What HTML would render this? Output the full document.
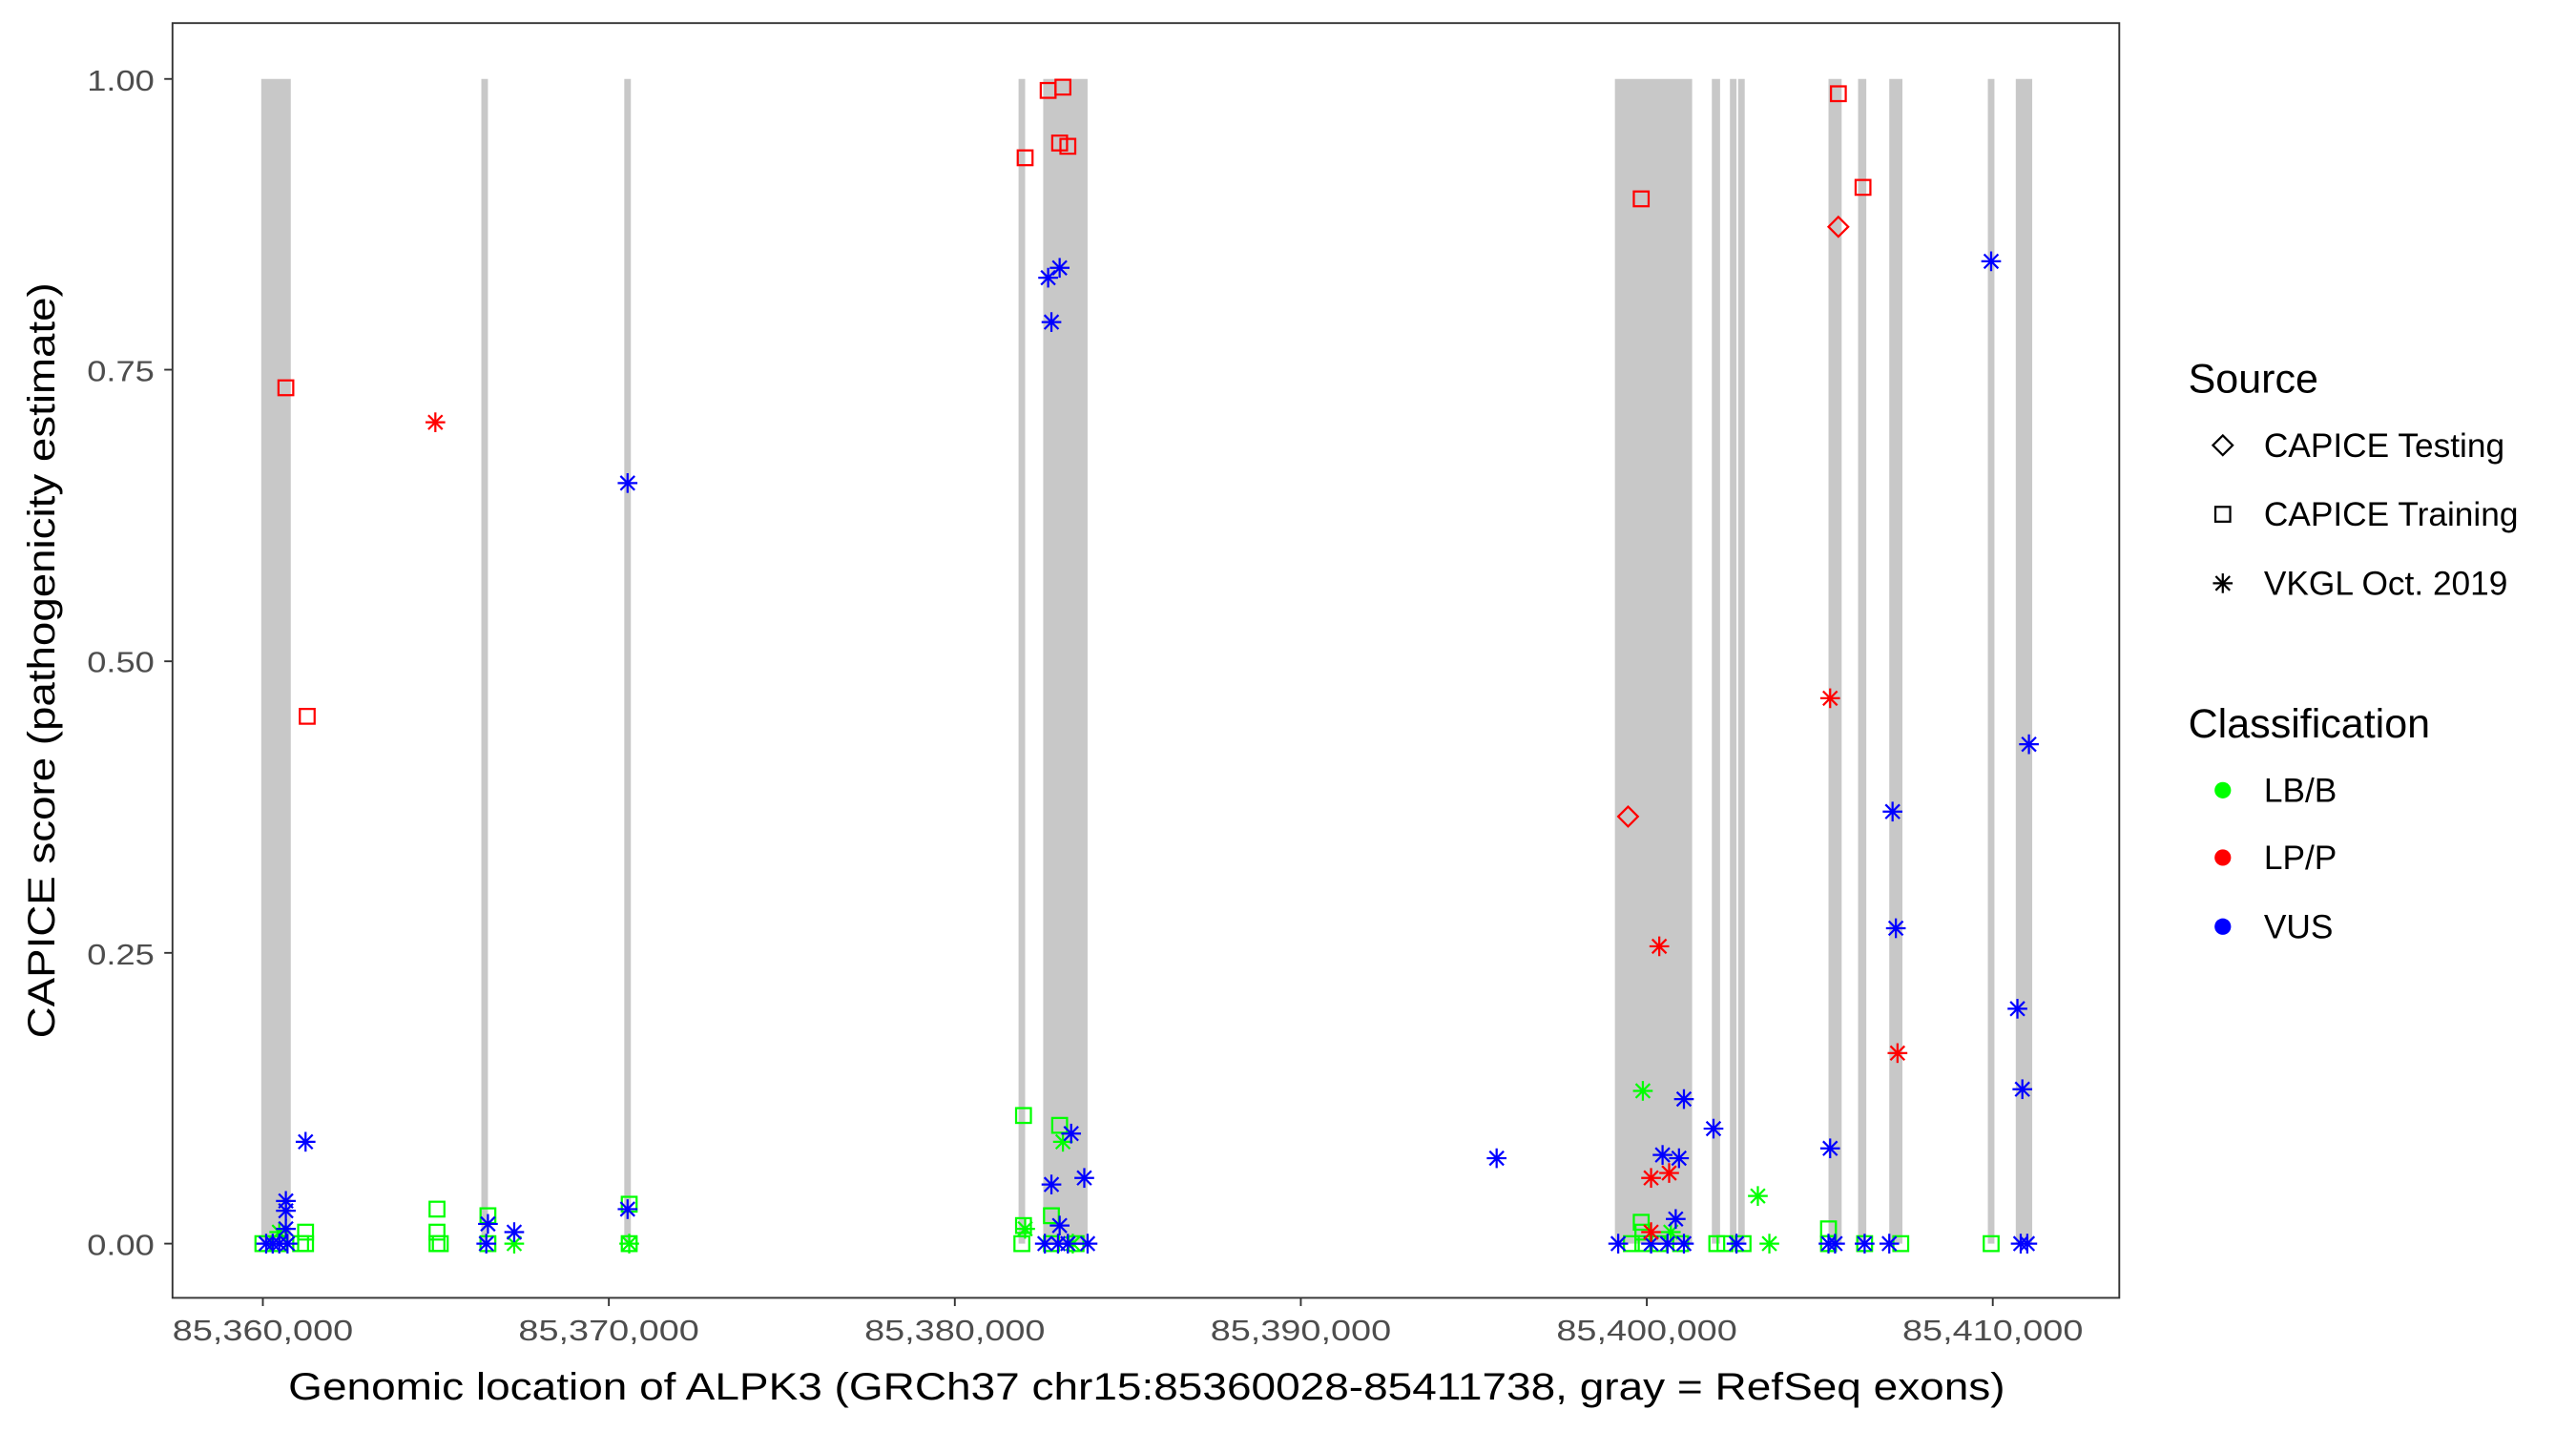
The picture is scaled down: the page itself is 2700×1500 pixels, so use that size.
<!DOCTYPE html>
<html><head><meta charset="utf-8"><style>html,body{margin:0;padding:0;background:#fff}svg{display:block}</style></head>
<body>
<svg width="2700" height="1500" viewBox="0 0 1568 871" xmlns="http://www.w3.org/2000/svg" font-family="Liberation Sans, Arial, sans-serif">
<defs>
<g id="st" fill="none" stroke-width="1.3"><line x1="0" y1="-6" x2="0" y2="6"/><line x1="-6" y1="0" x2="6" y2="0"/><line x1="-4.3" y1="-4.3" x2="4.3" y2="4.3"/><line x1="-4.3" y1="4.3" x2="4.3" y2="-4.3"/></g>
<rect id="sq" x="-4.5" y="-4.5" width="9" height="9" fill="none" stroke-width="1.3"/>
<path id="dm" d="M0,-6 L6,0 L0,6 L-6,0Z" fill="none" stroke-width="1.3"/>
</defs>
<rect x="105" y="14" width="1185" height="776" fill="#fff"/>
<g fill="#c8c8c8">
<rect x="159" y="48" width="18" height="709"/><rect x="293" y="48" width="4" height="709"/><rect x="380" y="48" width="4" height="709"/>
<rect x="620" y="48" width="4" height="709"/><rect x="635" y="48" width="27" height="709"/><rect x="983" y="48" width="47" height="709"/>
<rect x="1042" y="48" width="5" height="709"/><rect x="1053" y="48" width="4" height="709"/><rect x="1058" y="48" width="4" height="709"/>
<rect x="1113" y="48" width="8" height="709"/><rect x="1131" y="48" width="5" height="709"/><rect x="1150" y="48" width="8" height="709"/>
<rect x="1210" y="48" width="4" height="709"/><rect x="1227" y="48" width="10" height="709"/>
</g>
<g stroke="#00ff00">
<use href="#sq" x="623" y="679"/><use href="#sq" x="645" y="685"/><use href="#sq" x="266" y="736"/><use href="#sq" x="297" y="740"/><use href="#sq" x="383" y="733"/><use href="#sq" x="623" y="746"/><use href="#sq" x="640" y="740"/><use href="#sq" x="999" y="744"/><use href="#sq" x="1000" y="750"/><use href="#sq" x="186" y="750"/><use href="#sq" x="266" y="750"/>
<use href="#sq" x="160" y="757"/><use href="#sq" x="170" y="757"/><use href="#sq" x="183" y="757"/><use href="#sq" x="186" y="757"/><use href="#sq" x="266" y="757"/><use href="#sq" x="268" y="757"/><use href="#sq" x="297" y="757"/><use href="#sq" x="383" y="757"/><use href="#sq" x="622" y="757"/><use href="#sq" x="640" y="757"/><use href="#sq" x="655" y="757"/><use href="#sq" x="993" y="757"/><use href="#sq" x="1000" y="757"/><use href="#sq" x="1010" y="757"/><use href="#sq" x="1023" y="757"/><use href="#sq" x="1045" y="757"/><use href="#sq" x="1050" y="757"/><use href="#sq" x="1061" y="757"/><use href="#sq" x="1113" y="757"/><use href="#sq" x="1135" y="757"/><use href="#sq" x="1157" y="757"/><use href="#sq" x="1212" y="757"/><use href="#sq" x="1113" y="748"/>
<use href="#st" x="1000" y="664"/><use href="#st" x="1070" y="728"/><use href="#st" x="647" y="695"/><use href="#st" x="313" y="757"/><use href="#st" x="383" y="757"/><use href="#st" x="624" y="748"/><use href="#st" x="1077" y="757"/><use href="#st" x="170" y="750"/><use href="#st" x="1017" y="750"/><use href="#st" x="653" y="757"/>
</g>
<g stroke="#0000ff">
<use href="#st" x="186" y="695"/><use href="#st" x="174" y="731"/><use href="#st" x="174" y="737"/><use href="#st" x="382" y="294"/><use href="#st" x="638" y="169"/><use href="#st" x="645" y="163"/><use href="#st" x="640" y="196"/><use href="#st" x="652" y="690"/><use href="#st" x="640" y="721"/><use href="#st" x="660" y="717"/><use href="#st" x="911" y="705"/><use href="#st" x="1025" y="669"/><use href="#st" x="1043" y="687"/><use href="#st" x="1012" y="703"/><use href="#st" x="1022" y="705"/><use href="#st" x="1114" y="699"/><use href="#st" x="1152" y="494"/><use href="#st" x="1154" y="565"/><use href="#st" x="1212" y="159"/><use href="#st" x="1235" y="453"/><use href="#st" x="1228" y="614"/><use href="#st" x="1231" y="663"/><use href="#st" x="382" y="736"/><use href="#st" x="297" y="745"/><use href="#st" x="313" y="750"/><use href="#st" x="1020" y="742"/><use href="#st" x="174" y="748"/><use href="#st" x="645" y="746"/>
<use href="#st" x="162" y="757"/><use href="#st" x="166" y="757"/><use href="#st" x="170" y="757"/><use href="#st" x="175" y="757"/><use href="#st" x="296" y="757"/><use href="#st" x="636" y="757"/><use href="#st" x="644" y="757"/><use href="#st" x="650" y="757"/><use href="#st" x="662" y="757"/><use href="#st" x="985" y="757"/><use href="#st" x="1005" y="757"/><use href="#st" x="1015" y="757"/><use href="#st" x="1025" y="757"/><use href="#st" x="1057" y="757"/><use href="#st" x="1113" y="757"/><use href="#st" x="1117" y="757"/><use href="#st" x="1135" y="757"/><use href="#st" x="1150" y="757"/><use href="#st" x="1230" y="757"/><use href="#st" x="1234" y="757"/>
</g>
<g stroke="#ff0000">
<use href="#sq" x="174" y="236"/><use href="#sq" x="187" y="436"/><use href="#sq" x="624" y="96"/><use href="#sq" x="638" y="55"/><use href="#sq" x="647" y="53"/><use href="#sq" x="645" y="87"/><use href="#sq" x="650" y="89"/><use href="#sq" x="999" y="121"/><use href="#sq" x="1119" y="57"/><use href="#sq" x="1134" y="114"/>
<use href="#dm" x="1119" y="138"/><use href="#dm" x="991" y="497"/>
<use href="#st" x="265" y="257"/><use href="#st" x="1114" y="425"/><use href="#st" x="1010" y="576"/><use href="#st" x="1005" y="717"/><use href="#st" x="1016" y="714"/><use href="#st" x="1155" y="641"/><use href="#st" x="1005" y="750"/>
</g>
<rect x="105" y="14" width="1185" height="776" fill="none" stroke="#333" stroke-width="1.1"/>
<g stroke="#333" stroke-width="1.1">
<line x1="100" y1="48" x2="105" y2="48"/><line x1="100" y1="225" x2="105" y2="225"/><line x1="100" y1="402.5" x2="105" y2="402.5"/><line x1="100" y1="580" x2="105" y2="580"/><line x1="100" y1="757" x2="105" y2="757"/>
<line x1="160" y1="790" x2="160" y2="795"/><line x1="370.6" y1="790" x2="370.6" y2="795"/><line x1="581.2" y1="790" x2="581.2" y2="795"/><line x1="791.8" y1="790" x2="791.8" y2="795"/><line x1="1002.4" y1="790" x2="1002.4" y2="795"/><line x1="1213" y1="790" x2="1213" y2="795"/>
</g>
<g fill="#4d4d4d" font-size="18" text-anchor="end" lengthAdjust="spacingAndGlyphs">
<text x="94" y="55" textLength="41" lengthAdjust="spacingAndGlyphs">1.00</text><text x="94" y="232" textLength="41" lengthAdjust="spacingAndGlyphs">0.75</text><text x="94" y="409" textLength="41" lengthAdjust="spacingAndGlyphs">0.50</text><text x="94" y="587" textLength="41" lengthAdjust="spacingAndGlyphs">0.25</text><text x="94" y="764" textLength="41" lengthAdjust="spacingAndGlyphs">0.00</text>
</g>
<g fill="#4d4d4d" font-size="18" text-anchor="middle">
<text x="160" y="816" textLength="110" lengthAdjust="spacingAndGlyphs">85,360,000</text><text x="370.6" y="816" textLength="110" lengthAdjust="spacingAndGlyphs">85,370,000</text><text x="581.2" y="816" textLength="110" lengthAdjust="spacingAndGlyphs">85,380,000</text><text x="791.8" y="816" textLength="110" lengthAdjust="spacingAndGlyphs">85,390,000</text><text x="1002.4" y="816" textLength="110" lengthAdjust="spacingAndGlyphs">85,400,000</text><text x="1213" y="816" textLength="110" lengthAdjust="spacingAndGlyphs">85,410,000</text>
</g>
<text x="698" y="852" font-size="23" text-anchor="middle" textLength="1045" lengthAdjust="spacingAndGlyphs">Genomic location of ALPK3 (GRCh37 chr15:85360028-85411738, gray = RefSeq exons)</text>
<text transform="translate(33,402) rotate(-90)" font-size="23" text-anchor="middle" textLength="460" lengthAdjust="spacingAndGlyphs">CAPICE score (pathogenicity estimate)</text>
<text x="1332" y="239" font-size="25">Source</text>
<use href="#dm" x="1353" y="271" stroke="#000"/><use href="#sq" x="1353" y="313" stroke="#000"/><use href="#st" x="1353" y="355" stroke="#000"/>
<g font-size="20.5"><text x="1378" y="278">CAPICE Testing</text><text x="1378" y="320">CAPICE Training</text><text x="1378" y="362">VKGL Oct. 2019</text></g>
<text x="1332" y="449" font-size="25">Classification</text>
<circle cx="1353" cy="481" r="5" fill="#00ff00"/><circle cx="1353" cy="522" r="5" fill="#ff0000"/><circle cx="1353" cy="564" r="5" fill="#0000ff"/>
<g font-size="20.5"><text x="1378" y="488">LB/B</text><text x="1378" y="529">LP/P</text><text x="1378" y="571">VUS</text></g>
</svg>
</body></html>
